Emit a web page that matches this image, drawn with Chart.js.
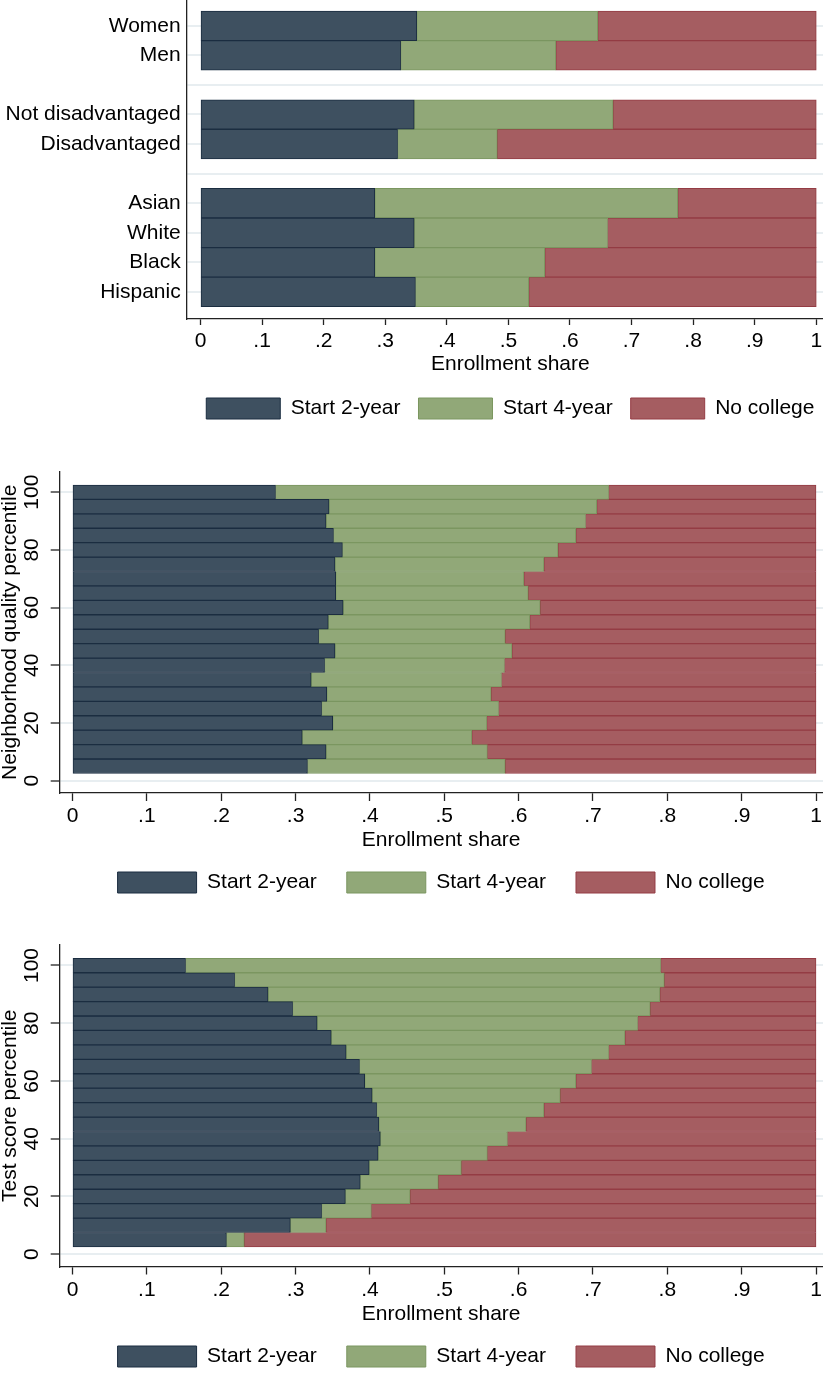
<!DOCTYPE html>
<html>
<head>
<meta charset="utf-8">
<script src="https://cdn.jsdelivr.net/npm/chart.js@4/dist/chart.umd.min.js"></script>
<style>
  html, body { margin: 0; padding: 0; background: #fff; overflow: hidden; }
  body { width: 823px; height: 1373px; position: relative; }
  canvas { position: absolute; left: 0; }
</style>
</head>
<body>
<canvas id="groupChart" width="834" height="445" style="top:0"></canvas>
<canvas id="neighChart" width="823" height="475" style="top:445px"></canvas>
<canvas id="scoreChart" width="823" height="460" style="top:920px"></canvas>
<script>
// top panel: '' rows are the gaps between the blocks
const groupLabels = ['Women', 'Men', '', 'Not disadvantaged', 'Disadvantaged', '', 'Asian', 'White', 'Black', 'Hispanic'];
const groupStart2 = [0.351, 0.325, null, 0.347, 0.320, null, 0.283, 0.347, 0.283, 0.349];
const groupStart4 = [0.294, 0.252, null, 0.323, 0.162, null, 0.492, 0.314, 0.276, 0.184];
const groupNoCollege = [0.355, 0.423, null, 0.330, 0.518, null, 0.225, 0.339, 0.441, 0.467];

// percentile bins (5 .. 100)
const percentiles = [5, 10, 15, 20, 25, 30, 35, 40, 45, 50, 55, 60, 65, 70, 75, 80, 85, 90, 95, 100];

const neighStart2 = [0.316, 0.341, 0.309, 0.350, 0.335, 0.342, 0.321, 0.339, 0.353, 0.331,
                     0.344, 0.364, 0.354, 0.354, 0.353, 0.363, 0.351, 0.341, 0.345, 0.273];
const neighStart4 = [0.266, 0.217, 0.228, 0.207, 0.238, 0.221, 0.256, 0.242, 0.238, 0.251,
                     0.271, 0.265, 0.259, 0.253, 0.281, 0.290, 0.326, 0.349, 0.360, 0.448];
const neighNoCollege = [0.418, 0.442, 0.463, 0.443, 0.427, 0.437, 0.423, 0.419, 0.409, 0.418,
                        0.385, 0.371, 0.387, 0.393, 0.366, 0.347, 0.323, 0.310, 0.295, 0.279];

const scoreStart2 = [0.207, 0.293, 0.335, 0.367, 0.387, 0.399, 0.411, 0.414, 0.412, 0.409,
                     0.403, 0.393, 0.386, 0.368, 0.348, 0.329, 0.296, 0.263, 0.218, 0.152];
const scoreStart4 = [0.024, 0.048, 0.067, 0.087, 0.105, 0.124, 0.147, 0.171, 0.198, 0.225,
                     0.253, 0.284, 0.312, 0.353, 0.395, 0.431, 0.481, 0.527, 0.578, 0.639];
const scoreNoCollege = [0.769, 0.659, 0.598, 0.546, 0.508, 0.477, 0.442, 0.415, 0.390, 0.366,
                        0.344, 0.323, 0.302, 0.279, 0.257, 0.240, 0.223, 0.210, 0.204, 0.209];

const seriesNames = ['Start 2-year', 'Start 4-year', 'No college'];
const shareTicks = [0, 0.1, 0.2, 0.3, 0.4, 0.5, 0.6, 0.7, 0.8, 0.9, 1];
const shareTickLabels = ['0', '.1', '.2', '.3', '.4', '.5', '.6', '.7', '.8', '.9', '1'];
const percentileTicks = [0, 20, 40, 60, 80, 100];

const fills = ['#3e5060', '#91a878', '#a55d61'];
const edges = ['#1b2d40', '#7b9660', '#943c44'];
const axisColor = '#222';
const gridColor = '#e8eef1';
const txtFont = { size: 21, lineHeight: 1 };

Chart.defaults.font.family = '"Liberation Sans", Arial, Helvetica, sans-serif';
Chart.defaults.font.size = 21;
Chart.defaults.color = '#000';

function stackedDatasets(positions, series) {
  return series.map((values, k) => ({
    label: seriesNames[k],
    data: positions.map((p, i) => ({ x: values[i], y: p })).filter((d) => d.x !== null),
    backgroundColor: fills[k],
    borderColor: edges[k],
    borderWidth: 1,
    borderSkipped: false,
    barPercentage: 1,
    categoryPercentage: 1,
  }));
}

function buildPanel(canvasId, cfg) {
  return new Chart(document.getElementById(canvasId), {
    type: 'bar',
    data: { datasets: stackedDatasets(cfg.positions, cfg.series) },
    options: {
      indexAxis: 'y',
      responsive: false,
      animation: false,
      events: [],
      layout: { padding: { top: cfg.padTop, bottom: cfg.padBottom, left: 0, right: 0 } },
      scales: {
        x: {
          type: 'linear',
          stacked: true,
          min: cfg.xMin,
          max: cfg.xMax,
          afterBuildTicks: (s) => { s.ticks = shareTicks.map((v) => ({ value: v })); },
          afterFit: (s) => { s.height = cfg.xHeight; s.paddingLeft = 0; s.paddingRight = 0; },
          ticks: { autoSkip: false, maxRotation: 0, padding: cfg.xTickPad, font: txtFont,
                   callback: (v, i) => shareTickLabels[i] },
          grid: { drawOnChartArea: false, tickLength: cfg.xTickLen, tickColor: axisColor, tickWidth: 1.3 },
          border: { color: axisColor, width: 1.3 },
          title: { display: true, text: 'Enrollment share', font: txtFont,
                   padding: { top: 0, bottom: cfg.xTitlePad } },
        },
        y: cfg.y,
      },
      plugins: {
        legend: {
          position: 'bottom',
          fullSize: false,
          labels: { boxWidth: cfg.boxWidth, boxHeight: 21, padding: cfg.legendPad, font: { size: 21 } },
        },
        tooltip: { enabled: false },
      },
    },
  });
}

// percentile panels share the same y axis layout
function percentileAxis(title) {
  return {
    type: 'linear',
    stacked: true,
    offset: false,
    min: -4.27,
    max: 107.1,
    afterBuildTicks: (s) => { s.ticks = percentileTicks.map((v) => ({ value: v })); },
    afterFit: (s) => { s.width = 59.3; s.paddingTop = 0; s.paddingBottom = 0; },
    ticks: { autoSkip: false, minRotation: 90, maxRotation: 90, crossAlign: 'center', padding: 0.5, font: txtFont },
    grid: { offset: false, color: gridColor, lineWidth: 2, tickLength: 8.6, tickColor: axisColor, tickWidth: 1.3 },
    border: { color: axisColor, width: 1.3 },
    title: { display: true, text: title, font: txtFont, padding: 0 },
  };
}

buildPanel('groupChart', {
  positions: groupLabels.map((_, i) => i),
  series: [groupStart2, groupStart4, groupNoCollege],
  padTop: 0, padBottom: 16,
  xMin: -0.02244, xMax: 1.0288,
  xHeight: 61, xTickPad: 6, xTickLen: 6, xTitlePad: 5.5,
  boxWidth: 74, legendPad: 18,
  y: {
    type: 'linear',
    stacked: true,
    offset: false,
    reverse: true,
    min: -0.872,
    max: 9.916,
    afterBuildTicks: (s) => { s.ticks = groupLabels.map((_, i) => ({ value: i })); },
    afterFit: (s) => { s.width = 186.7; s.paddingTop = 0; s.paddingBottom = 0; },
    ticks: { autoSkip: false, padding: 6, font: txtFont, callback: (v) => groupLabels[v] },
    grid: { offset: false, color: gridColor, lineWidth: 2, drawTicks: false },
    border: { color: axisColor, width: 1.3 },
  },
});

buildPanel('neighChart', {
  positions: percentiles,
  series: [neighStart2, neighStart4, neighNoCollege],
  padTop: 26.7, padBottom: 17,
  xMin: -0.01775, xMax: 1.00941,
  xHeight: 49, xTickPad: 5, xTickLen: 8, xTitlePad: -8.5,
  boxWidth: 79, legendPad: 30,
  y: percentileAxis('Neighborhood quality percentile'),
});

buildPanel('scoreChart', {
  positions: percentiles,
  series: [scoreStart2, scoreStart4, scoreNoCollege],
  padTop: 25, padBottom: 3,
  xMin: -0.01775, xMax: 1.00941,
  xHeight: 49.5, xTickPad: 5, xTickLen: 8, xTitlePad: -8.5,
  boxWidth: 79, legendPad: 30,
  y: percentileAxis('Test score percentile'),
});
</script>
</body>
</html>
